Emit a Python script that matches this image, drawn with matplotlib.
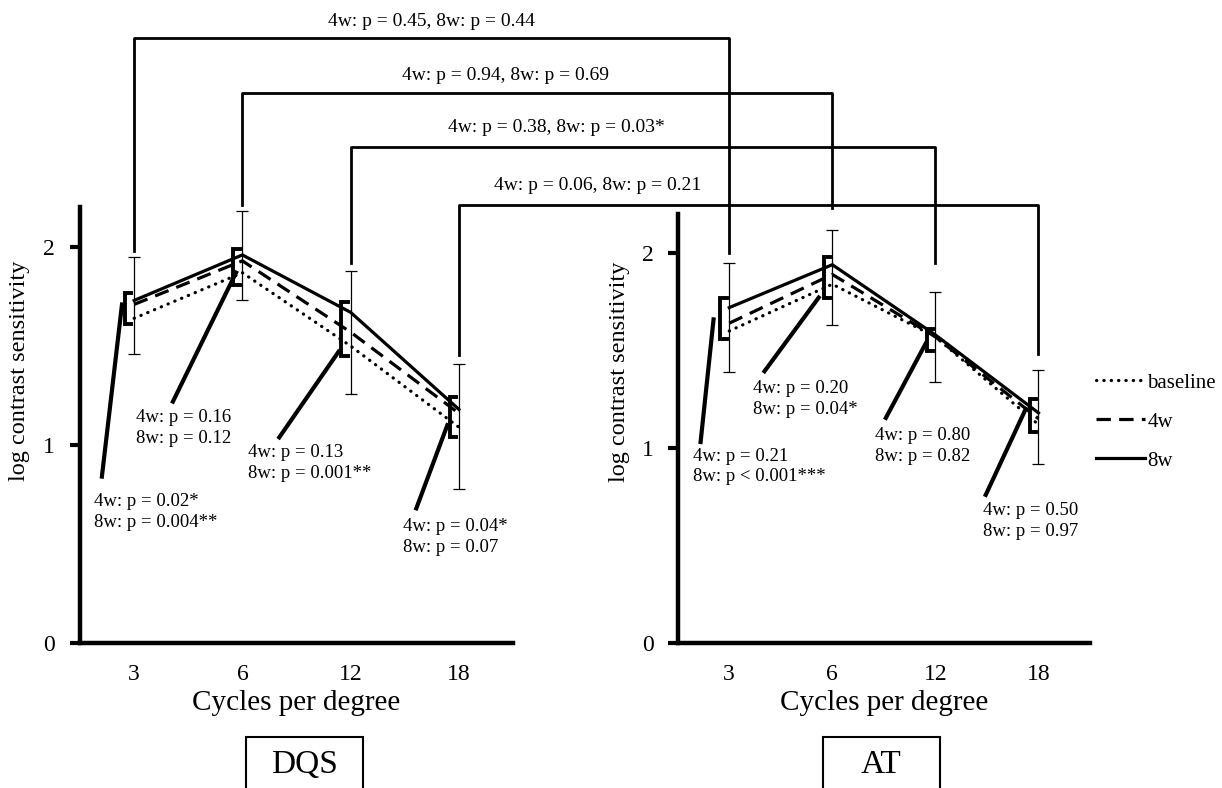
import matplotlib
matplotlib.use('Agg')
import matplotlib.pyplot as plt
from matplotlib.lines import Line2D
from matplotlib.patches import Rectangle

plt.rcParams['font.family'] = ['Liberation Serif', 'DejaVu Serif']

W, H = 1222, 788

cpd = ['3', '6', '12', '18']

# DQS panel
dqs_baseline = [1.64, 1.87, 1.50, 1.09]
dqs_4w = [1.71, 1.93, 1.57, 1.16]
dqs_8w = [1.73, 1.96, 1.67, 1.18]
dqs_err_lo = [1.46, 1.73, 1.26, 0.78]
dqs_err_hi = [1.95, 2.18, 1.88, 1.41]
dqs_brk_lo = [1.61, 1.81, 1.45, 1.04]
dqs_brk_hi = [1.77, 1.99, 1.72, 1.24]
dqs_p = ['4w: p = 0.02*\n8w: p = 0.004**',
         '4w: p = 0.16\n8w: p = 0.12',
         '4w: p = 0.13\n8w: p = 0.001**',
         '4w: p = 0.04*\n8w: p = 0.07']

# AT panel
at_baseline = [1.60, 1.84, 1.57, 1.12]
at_4w = [1.64, 1.89, 1.57, 1.15]
at_8w = [1.72, 1.94, 1.58, 1.18]
at_err_lo = [1.39, 1.63, 1.34, 0.92]
at_err_hi = [1.95, 2.12, 1.80, 1.40]
at_brk_lo = [1.56, 1.77, 1.50, 1.08]
at_brk_hi = [1.77, 1.98, 1.61, 1.25]
at_p = ['4w: p = 0.21\n8w: p < 0.001***',
        '4w: p = 0.20\n8w: p = 0.04*',
        '4w: p = 0.80\n8w: p = 0.82',
        '4w: p = 0.50\n8w: p = 0.97']

# DQS vs AT at same frequency
between_p = ['4w: p = 0.45, 8w: p = 0.44',
             '4w: p = 0.94, 8w: p = 0.69',
             '4w: p = 0.38, 8w: p = 0.03*',
             '4w: p = 0.06, 8w: p = 0.21']

# callout placement (data coords): line start, line end, text left / centre y
dqs_call = [((-0.11, 1.72), (-0.30, 0.83), (-0.37, 0.66)),
            ((0.95, 1.88), (0.35, 1.21), (0.02, 1.085)),
            ((1.90, 1.48), (1.33, 1.03), (1.05, 0.91)),
            ((2.90, 1.11), (2.60, 0.67), (2.48, 0.535))]
at_call = [((-0.15, 1.67), (-0.28, 1.02), (-0.35, 0.905)),
           ((0.88, 1.78), (0.33, 1.385), (0.23, 1.25)),
           ((1.915, 1.545), (1.51, 1.145), (1.41, 1.01)),
           ((2.885, 1.21), (2.48, 0.75), (2.46, 0.625))]
dqs_link_end = [1.98, 2.21, 1.92, 1.455]
at_link_end = [2.00, 2.23, 1.95, 1.48]
link_level_px = [38, 93, 147, 205]
link_text_px = [(431, 22), (505, 75), (556, 128), (598, 185)]

fig = plt.figure(figsize=(W / 100, H / 100), dpi=100)
axL = fig.add_axes([80 / W, 145 / H, 433 / W, 435.6 / H])
axR = fig.add_axes([677.7 / W, 145 / H, 412.3 / W, 429 / H])

LW = 2.3


def draw_panel(ax, base, w4, w8, elo, ehi, blo, bhi, plist, calls, pad, ylab_xy):
    x = list(range(len(cpd)))
    mid = [(a + b) / 2 for a, b in zip(elo, ehi)]
    half = [(b - a) / 2 for a, b in zip(elo, ehi)]
    ax.errorbar(x, mid, yerr=half, fmt='none', ecolor='black', elinewidth=0.9,
                capsize=4, capthick=0.9, zorder=2)
    ax.plot(x, base, color='black', lw=LW, linestyle=(0, (0.1, 2.2)),
            dash_capstyle='round', zorder=3)
    ax.plot(x, w4, color='black', lw=LW, linestyle=(0, (4.5, 2.6)), zorder=3)
    ax.plot(x, w8, color='black', lw=LW, zorder=4)
    # brackets
    for i in x:
        bx = i - 0.085
        ax.plot([bx + 0.06, bx, bx, bx + 0.06], [bhi[i], bhi[i], blo[i], blo[i]],
                color='black', lw=2.8, solid_joinstyle='miter', zorder=5,
                clip_on=False)
    for (s, e, t), txt in zip(calls, plist):
        ax.plot([s[0], e[0]], [s[1], e[1]], color='black', lw=3.0, zorder=5,
                solid_capstyle='butt', clip_on=False)
        ax.text(t[0], t[1], txt, ha='left', va='center', fontsize=13.5,
                linespacing=1.3)
    ax.set_xlim(-0.5, 3.5)
    ax.set_ylim(0, 2.2)
    ax.set_xticks(x)
    ax.set_xticklabels(cpd, fontsize=17)
    ax.set_yticks([0, 1, 2])
    ax.set_yticklabels(['0', '1', '2'], fontsize=17)
    ax.tick_params(axis='x', length=0, pad=15)
    ax.tick_params(axis='y', length=7, width=3, direction='out', pad=pad)
    for side in ['top', 'right']:
        ax.spines[side].set_visible(False)
    for side in ['left', 'bottom']:
        ax.spines[side].set_linewidth(3.2)
    ax.set_xlabel('Cycles per degree', fontsize=21, labelpad=4)
    ax.set_ylabel('log contrast sensitivity', fontsize=17.5)
    ax.yaxis.set_label_coords(*ylab_xy)


draw_panel(axL, dqs_baseline, dqs_4w, dqs_8w, dqs_err_lo, dqs_err_hi,
           dqs_brk_lo, dqs_brk_hi, dqs_p, dqs_call, 11, (-0.115, 0.624))
draw_panel(axR, at_baseline, at_4w, at_8w, at_err_lo, at_err_hi,
           at_brk_lo, at_brk_hi, at_p, at_call, 10, (-0.116, 0.632))


def to_fig(ax, x, y):
    return fig.transFigure.inverted().transform(ax.transData.transform((x, y)))


for i in range(len(cpd)):
    pl = to_fig(axL, i, dqs_link_end[i])
    pr = to_fig(axR, i, at_link_end[i])
    ytop = 1 - link_level_px[i] / H
    fig.add_artist(Line2D([pl[0], pl[0], pr[0], pr[0]], [pl[1], ytop, ytop, pr[1]],
                          color='black', lw=2.0, transform=fig.transFigure))
    tx, ty = link_text_px[i]
    fig.text(tx / W, 1 - ty / H, between_p[i], ha='center', va='center', fontsize=14)

handles = [Line2D([], [], color='black', lw=LW, linestyle=(0, (0.1, 2.2)),
                  dash_capstyle='round'),
           Line2D([], [], color='black', lw=LW, linestyle=(0, (4.5, 2.6))),
           Line2D([], [], color='black', lw=LW)]
axR.legend(handles, ['baseline', '4w', '8w'], loc='upper left',
           bbox_to_anchor=(1096 / W, 1 - 373 / H), bbox_transform=fig.transFigure,
           frameon=False, fontsize=15, handlelength=2.35, handletextpad=0.12,
           labelspacing=0.93, borderpad=0, borderaxespad=0)

for name, x0, x1 in [('DQS', 246, 363), ('AT', 823, 940)]:
    fig.add_artist(Rectangle((x0 / W, -20 / H), (x1 - x0) / W, (788 - 737 + 20) / H,
                             transform=fig.transFigure, fill=False, lw=1.5,
                             edgecolor='black'))
    fig.text((x0 + x1) / 2 / W, 1 - 765 / H, name, ha='center', va='center',
             fontsize=24)

fig.savefig('out.png', dpi=100)
